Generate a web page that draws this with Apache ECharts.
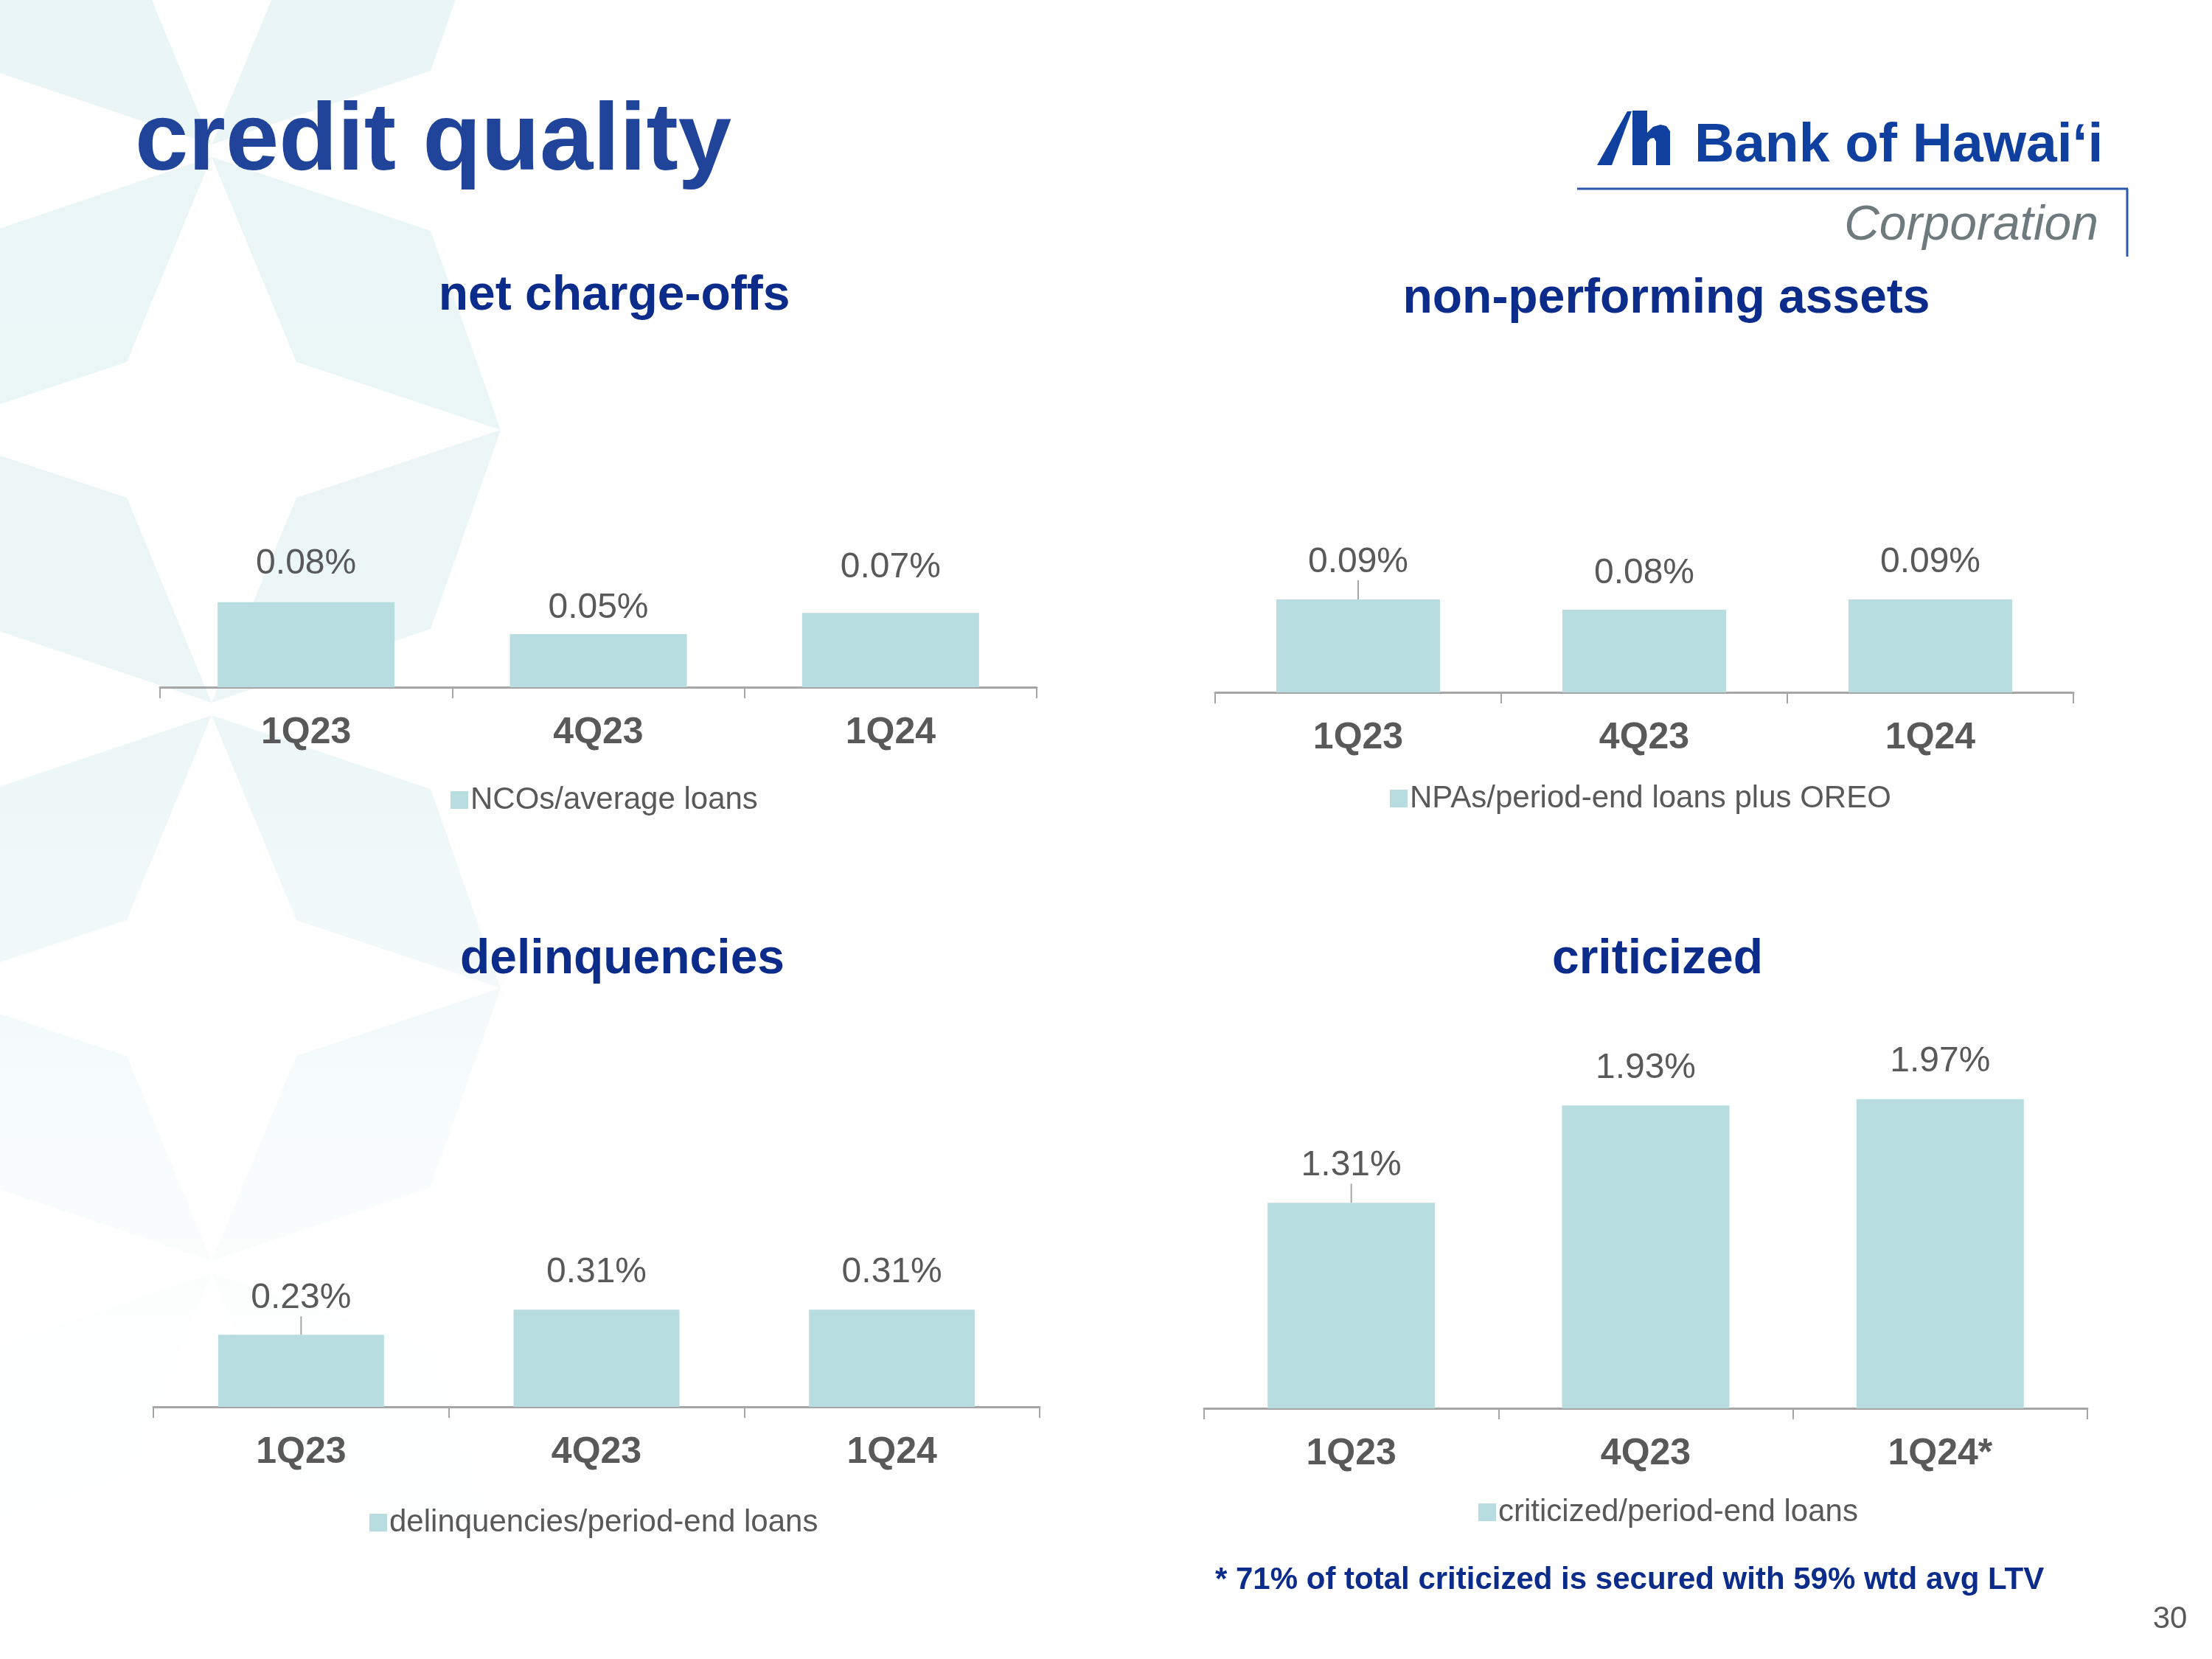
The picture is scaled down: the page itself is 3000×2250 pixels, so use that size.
<!DOCTYPE html>
<html>
<head>
<meta charset="utf-8">
<script src="https://cdn.jsdelivr.net/npm/echarts@6/dist/echarts.min.js"></script>
<style>
html,body{margin:0;padding:0;background:#ffffff;}
#c{width:3000px;height:2250px;}
</style>
</head>
<body>
<div id="c"></div>
<script>
// ---------- data ----------
const categories = ['1Q23', '4Q23', '1Q24'];
const criticizedCategories = ['1Q23', '4Q23', '1Q24*'];
const ncoValues = [0.08, 0.05, 0.07];
const npaValues = [0.09, 0.08, 0.09];
const delinquencyValues = [0.23, 0.31, 0.31];
const criticizedValues = [1.31, 1.93, 1.97];
const panelTitles = ['net charge-offs', 'non-performing assets', 'delinquencies', 'criticized'];
const seriesNames = ['NCOs/average loans', 'NPAs/period-end loans plus OREO', 'delinquencies/period-end loans', 'criticized/period-end loans'];
const pageTitle = 'credit quality';
const footnote = '* 71% of total criticized is secured with 59% wtd avg LTV';
const pageNumber = '30';
const logoName = 'Bank of Hawai\u2018i';
const logoSub = 'Corporation';

// ---------- layout / style ----------
const BAR = '#b7dde0';
const GRAY = '#595959';
const AXIS = '#a6a6a6';
const NAVY = '#0c2c8c';
const panels = [
  {cats: categories, values: ncoValues, left: 217, right: 1406, axisY: 932, max: 0.1, height: 144, barWidth: 240,
   gaps: [35, 18, 44], leader: [false, false, false], titleX: 833, titleY: 402, legendX: 606, legendY: 1080},
  {cats: categories, values: npaValues, left: 1648, right: 2812, axisY: 939, max: 0.1, height: 140, barWidth: 222,
   gaps: [33, 32, 33], leader: [true, false, false], titleX: 2260, titleY: 406, legendX: 1880, legendY: 1078},
  {cats: categories, values: delinquencyValues, left: 208, right: 1410, axisY: 1908, max: 0.4, height: 170, barWidth: 225,
   gaps: [32, 33, 33], leader: [true, false, false], titleX: 844, titleY: 1302, legendX: 496, legendY: 2060},
  {cats: criticizedCategories, values: criticizedValues, left: 1633, right: 2831, axisY: 1910, max: 2.5, height: 532, barWidth: 227,
   gaps: [33, 34, 34], leader: [true, false, false], titleX: 2248, titleY: 1302, legendX: 2000, legendY: 2046}
];

const grids = [], xAxes = [], yAxes = [], series = [], legends = [];
panels.forEach((p, i) => {
  grids.push({left: p.left, top: p.axisY - p.height, width: p.right - p.left, height: p.height, outerBoundsMode: 'none', containLabel: false});
  xAxes.push({
    type: 'category', gridIndex: i, data: p.cats, boundaryGap: true,
    axisLine: {show: true, lineStyle: {color: AXIS, width: 3}},
    axisTick: {show: true, alignWithLabel: false, length: 15, lineStyle: {color: AXIS, width: 2}},
    axisLabel: {show: true, color: GRAY, fontSize: 50, fontWeight: 'bold', fontFamily: 'Liberation Sans, Arial, sans-serif', margin: 37, interval: 0},
    splitLine: {show: false}
  });
  yAxes.push({type: 'value', gridIndex: i, min: 0, max: p.max, show: false, splitLine: {show: false}});
  series.push({
    type: 'bar', name: seriesNames[i], xAxisIndex: i, yAxisIndex: i, barWidth: p.barWidth,
    itemStyle: {color: BAR}, silent: true, animation: false,
    data: p.values.map((v, k) => ({value: v, labelLine: {show: p.leader[k]}})),
    label: {show: true, position: 'top', distance: 5, color: GRAY, fontSize: 48,
            fontFamily: 'Liberation Sans, Arial, sans-serif',
            formatter: (q) => q.value.toFixed(2) + '%'},
    labelLine: {show: false, lineStyle: {color: AXIS, width: 2}, length2: 0},
    labelLayout: (q) => ({dy: -(p.gaps[q.dataIndex] - 12)})
  });
  legends.push({
    data: [seriesNames[i]], left: p.legendX, top: p.legendY - 21, orient: 'horizontal',
    icon: 'rect', itemWidth: 24, itemHeight: 24, itemGap: 10, selectedMode: false,
    textStyle: {color: GRAY, fontSize: 42, fontFamily: 'Liberation Sans, Arial, sans-serif', padding: [0, 0, 0, -2]}
  });
});

// ---------- background star pattern ----------
const fade = {type: 'linear', x: 0, y: 0, x2: 0, y2: 2250, global: true,
  colorStops: [{offset: 0, color: '#e9f5f6'}, {offset: 0.42, color: '#ecf6f7'},
               {offset: 0.62, color: '#f4fafa'}, {offset: 0.8, color: '#fdfefe'}, {offset: 1, color: '#ffffff'}]};
const starCenters = [[287, -174], [287, 583], [287, 1340], [287, 2097]];
const T = [0, -370], R = [392, 0], B = [0, 370], L = [-392, 0];
const pieces = [
  [T, [297, -270], R, [115, -92]],
  [R, [297, 270], B, [115, 92]],
  [B, [-297, 270], L, [-115, 92]],
  [L, [-297, -270], T, [-115, -92]]
];
const bg = [];
starCenters.forEach(c => {
  pieces.forEach(pc => {
    bg.push({type: 'polygon', z: -10, silent: true,
      shape: {points: pc.map(v => [c[0] + v[0], c[1] + v[1]])},
      style: {fill: fade}});
  });
});

const txt = (text, x, y, font, fill, align) => ({
  type: 'text', silent: true, z: 10,
  style: {text: text, x: x, y: y, font: font, fill: fill, textAlign: align || 'left', textVerticalAlign: 'middle'}
});

const LOGO = '#0f3f9f';
const graphics = bg.concat([
  txt(pageTitle, 183, 194, 'bold 130px "Liberation Sans", Arial, sans-serif', '#1f449a'),
  // logo mark
  {type: 'polygon', z: 10, silent: true, shape: {points: [[2166, 224], [2186, 224], [2213, 151], [2207, 151]]}, style: {fill: LOGO}},
  {type: 'polygon', z: 10, silent: true,
   shape: {points: [[2214, 150], [2234, 150], [2234, 180], [2242, 172], [2252, 169], [2260, 171], [2265, 178], [2265, 224],
                    [2246, 224], [2246, 192], [2243, 187], [2238, 188], [2234, 193], [2234, 224], [2214, 224]]},
   style: {fill: LOGO}},
  txt(logoName, 2298, 198, 'bold 75px "Liberation Sans", Arial, sans-serif', LOGO),
  {type: 'line', z: 10, silent: true, shape: {x1: 2139, y1: 256, x2: 2886, y2: 256}, style: {stroke: '#2b5aa8', lineWidth: 3}},
  {type: 'line', z: 10, silent: true, shape: {x1: 2885, y1: 256, x2: 2885, y2: 348}, style: {stroke: '#2b5aa8', lineWidth: 3}},
  txt(logoSub, 2846, 307, 'italic 66px "Liberation Sans", Arial, sans-serif', '#6e7a7d', 'right'),
  txt(footnote, 1648, 2143, 'bold 42px "Liberation Sans", Arial, sans-serif', NAVY),
  txt(pageNumber, 2943, 2196, '42px "Liberation Sans", Arial, sans-serif', GRAY, 'center')
]);
panels.forEach((p, i) => {
  graphics.push(txt(panelTitles[i], p.titleX, p.titleY, 'bold 66px "Liberation Sans", Arial, sans-serif', NAVY, 'center'));
});

const chart = echarts.init(document.getElementById('c'), null, {renderer: 'canvas'});
chart.setOption({
  backgroundColor: '#ffffff',
  animation: false,
  grid: grids,
  xAxis: xAxes,
  yAxis: yAxes,
  legend: legends,
  series: series,
  graphic: graphics
});
</script>
</body>
</html>
